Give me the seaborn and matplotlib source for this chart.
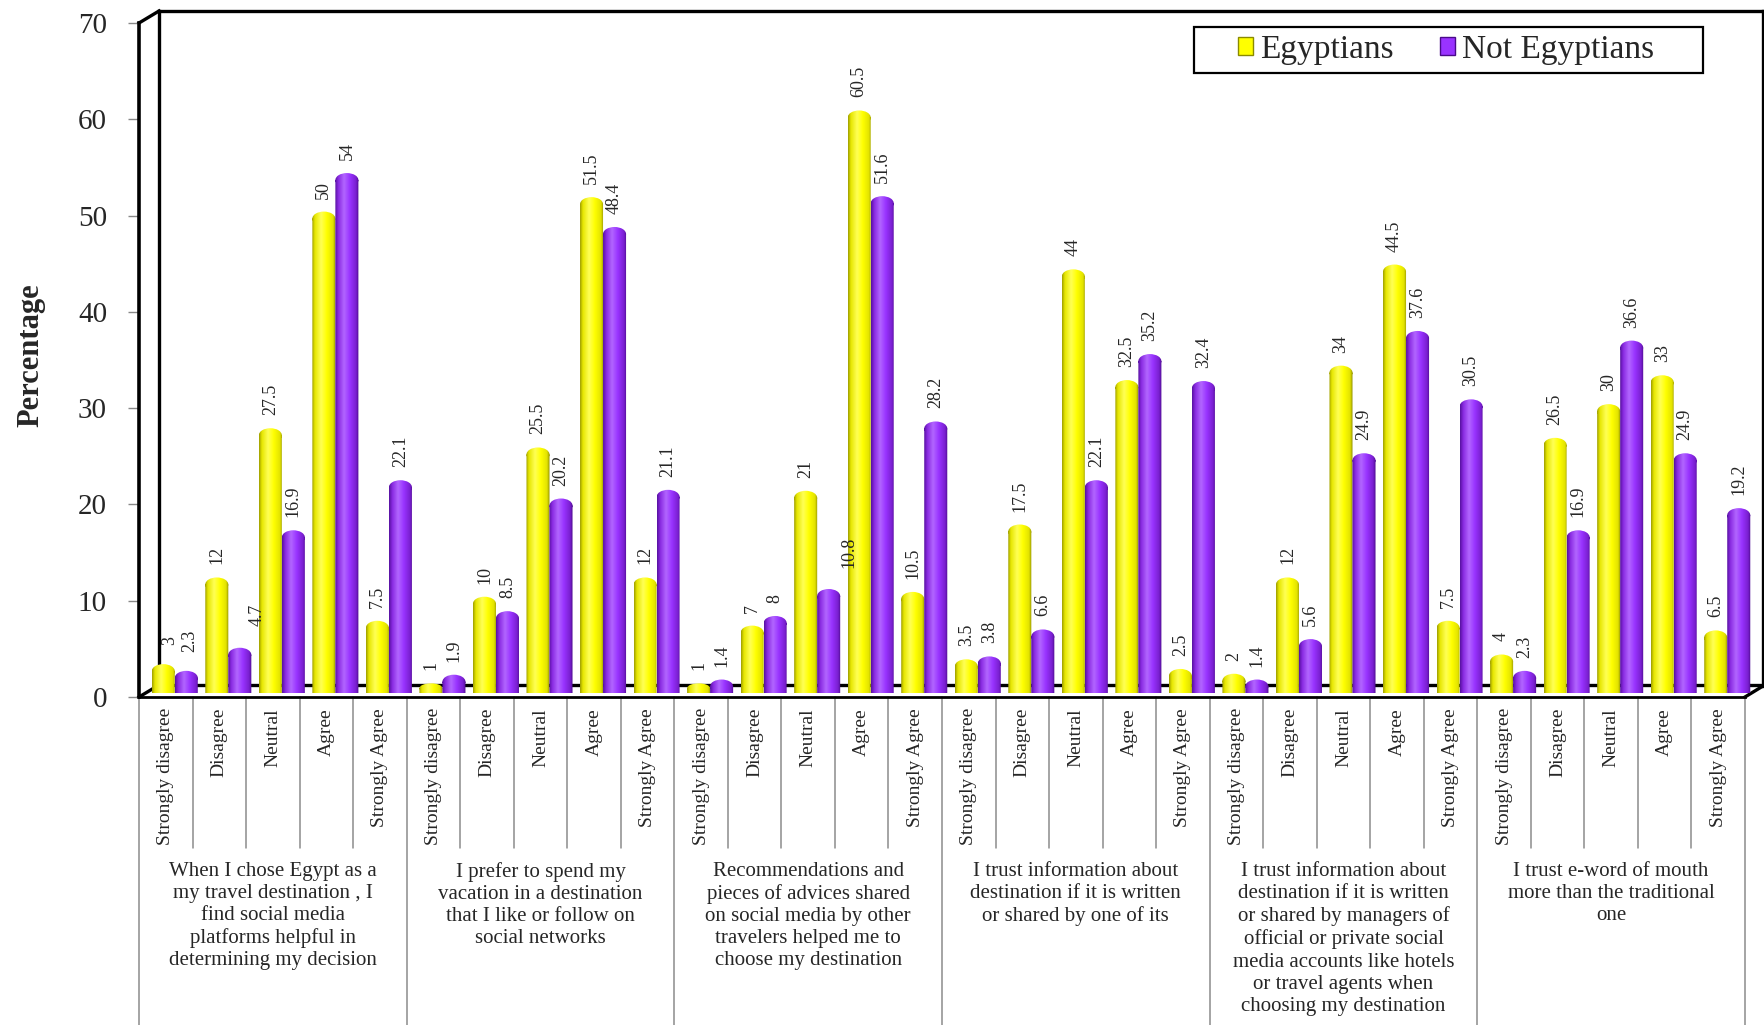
import numpy as np
import pandas as pd
import matplotlib
matplotlib.use("Agg")
import matplotlib.pyplot as plt
import matplotlib.transforms as mtransforms
import seaborn as sns
from matplotlib.colors import LinearSegmentedColormap
from matplotlib.path import Path
from matplotlib.lines import Line2D
from matplotlib.patches import Rectangle, Patch

# ---------------------------------------------------------------- data
statements = [
    "When I chose Egypt as a\nmy travel destination , I\nfind social media\nplatforms helpful in\ndetermining my decision",
    "I prefer to spend my\nvacation in a destination\nthat I like or follow on\nsocial networks",
    "Recommendations and\npieces of advices shared\non social media by other\ntravelers helped me to\nchoose my destination",
    "I trust information about\ndestination if it is written\nor shared by one of its",
    "I trust information about\ndestination if it is written\nor shared by managers of\nofficial or private social\nmedia accounts like hotels\nor travel agents when\nchoosing my destination",
    "I trust e-word of mouth\nmore than the traditional\none",
]
levels = ["Strongly disagree", "Disagree", "Neutral", "Agree", "Strongly Agree"]
series = ["Egyptians", "Not Egyptians"]

egyptians = [3, 12, 27.5, 50, 7.5,
             1, 10, 25.5, 51.5, 12,
             1, 7, 21, 60.5, 10.5,
             3.5, 17.5, 44, 32.5, 2.5,
             2, 12, 34, 44.5, 7.5,
             4, 26.5, 30, 33, 6.5]
not_egyptians = [2.3, 4.7, 16.9, 54, 22.1,
                 1.9, 8.5, 20.2, 48.4, 21.1,
                 1.4, 8, 10.8, 51.6, 28.2,
                 3.8, 6.6, 22.1, 35.2, 32.4,
                 1.4, 5.6, 24.9, 37.6, 30.5,
                 2.3, 16.9, 36.6, 24.9, 19.2]
y_ticks = [0, 10, 20, 30, 40, 50, 60, 70]

n_pos = len(statements) * len(levels)
df = pd.DataFrame({
    "pos": np.tile(np.arange(n_pos), len(series)),
    "series": np.repeat(series, n_pos),
    "value": egyptians + not_egyptians,
})

# ---------------------------------------------------------------- style
sns.set_theme(style="white")
plt.rcParams["font.family"] = ["Liberation Serif", "DejaVu Serif"]

W, H = 1765, 1025
YELLOW, PURPLE = "#FFFF00", "#9933FF"
cmap_yellow = LinearSegmentedColormap.from_list(
    "cyl_y", [(0, "#9C9C00"), (0.12, "#E6E600"), (0.38, "#FFFF55"),
              (0.62, "#FFFF00"), (0.88, "#E2E200"), (1, "#8A8A00")])
cmap_purple = LinearSegmentedColormap.from_list(
    "cyl_p", [(0, "#55109E"), (0.14, "#8A2BE2"), (0.38, "#B266FF"),
              (0.62, "#9933FF"), (0.88, "#7A1FD0"), (1, "#4A0A8A")])


def fx(x):
    return x / W


def fy(y):
    return 1 - y / H


fig = plt.figure(figsize=(W / 100, H / 100), dpi=100)
fig.patch.set_facecolor("white")

plot_w = (1745 - 139) / W
plot_h = (697 - 23) / H
px_per_unit = (697 - 23) / 70.0

# front plane: value axis and category axis
axf = fig.add_axes([fx(139), fy(697), plot_w, plot_h])
# bar plane, set slightly back (up and to the right)
axb = fig.add_axes([fx(148), fy(693), plot_w, plot_h])
for a in (axf, axb):
    a.patch.set_visible(False)

sns.barplot(data=df, x="pos", y="value", hue="series", hue_order=series,
            palette=[YELLOW, PURPLE], saturation=1, width=0.86, gap=0,
            dodge=True, legend=False, ax=axb)

# cylinder-shaded bars with rounded tops
cap = 7 / px_per_unit
grad = np.linspace(0, 1, 256).reshape(1, -1)
for cont, cmap in zip(axb.containers, [cmap_yellow, cmap_purple]):
    for bar in cont:
        x0, w, h = bar.get_x(), bar.get_width(), bar.get_height()
        c = min(cap, h / 2)
        body = Path([(x0, 0), (x0 + w, 0), (x0 + w, h - c), (x0, h - c), (x0, 0)],
                    closed=True)
        top = Path.unit_circle().transformed(
            mtransforms.Affine2D().scale(w / 2, c).translate(x0 + w / 2, h - c))
        clip = Path.make_compound_path(body, top)
        im = axb.imshow(grad, extent=[x0, x0 + w, 0, h], aspect="auto",
                        cmap=cmap, interpolation="bilinear", zorder=2)
        im.set_clip_path(clip, transform=axb.transData)
        bar.set_visible(False)

# value labels
nudges = {(0, 0): (6, 6), (1, 0): (3, 6), (1, 1): (17, 9), (1, 12): (20, 8)}
for si, (cont, vals) in enumerate(zip(axb.containers, [egyptians, not_egyptians])):
    for pi, (bar, v) in enumerate(zip(cont, vals)):
        dx, dy = nudges.get((si, pi), (0, 0))
        axb.annotate(f"{v:g}", (bar.get_x() + bar.get_width() / 2, v),
                     xytext=(dx * 0.72, (13 + dy) * 0.72), textcoords="offset points",
                     rotation=90, ha="center", va="bottom", fontsize=13, zorder=5)

axb.set_xlim(-0.5, n_pos - 0.5)
axb.set_ylim(0, 70)
axb.set_axis_off()

# front axes styling
axf.set_xlim(-0.5, n_pos - 0.5)
axf.set_ylim(0, 70)
axf.set_yticks(y_ticks)
axf.set_yticklabels([str(t) for t in y_ticks], fontsize=21)
axf.tick_params(axis="y", left=True, length=8, width=1, color="#888888", pad=15)
axf.set_xticks(np.arange(n_pos))
axf.set_xticklabels(levels * len(statements), rotation=90, fontsize=14)
axf.tick_params(axis="x", bottom=False, length=0, pad=8)
for side in ("top", "right"):
    axf.spines[side].set_visible(False)
axf.spines["left"].set_color("black")
axf.spines["left"].set_linewidth(2.6)
axf.spines["bottom"].set_color("black")
axf.spines["bottom"].set_linewidth(2.0)
axf.set_xlabel("")
axf.set_ylabel("")

# category separators below the floor
blend = mtransforms.blended_transform_factory(axf.transData, axf.transAxes)
minor_end = -(848 - 697) / (697 - 23)
major_end = -(1025 - 697) / (697 - 23)
for k in range(n_pos + 1):
    yend = major_end if k % len(levels) == 0 else minor_end
    axf.add_line(Line2D([k - 0.5, k - 0.5], [0, yend], transform=blend,
                        color="#8C8C8C", lw=1.1, clip_on=False))

# statement captions
cap_top = -(862 - 697) / (697 - 23)
for g, text in enumerate(statements):
    axf.text(g * len(levels) + (len(levels) - 1) / 2, cap_top, text, transform=blend,
             ha="center", va="top", fontsize=15, linespacing=1.22)

# back walls of the 3-D box
frame = [((139, 23), (159, 11)), ((159, 11), (1763, 11)), ((159, 11), (159, 685)),
         ((1763, 11), (1763, 686)), ((159, 685), (1763, 685)),
         ((139, 697), (159, 685)), ((1745, 697), (1763, 686))]
for (x1, y1), (x2, y2) in frame:
    fig.add_artist(Line2D([fx(x1), fx(x2)], [fy(y1), fy(y2)], transform=fig.transFigure,
                          color="black", lw=2.4, zorder=-1, solid_capstyle="projecting"))

# legend
fig.add_artist(Rectangle((fx(1194), fy(73)), (1703 - 1194) / W, (73 - 27) / H,
                         transform=fig.transFigure, fill=False, edgecolor="black",
                         lw=1.6))
handles = [Patch(facecolor=YELLOW, edgecolor="#8A8A00"),
           Patch(facecolor=PURPLE, edgecolor="#4A0A8A")]
fig.legend(handles, series, loc="center", bbox_to_anchor=(fx(1446), fy(50)),
           ncol=2, frameon=False, fontsize=24, handlelength=0.45, handleheight=0.45,
           handletextpad=0.2, columnspacing=1.4, borderaxespad=0, borderpad=0)

fig.text(fx(31), fy(355), "Percentage", rotation=90, fontweight="bold",
         fontsize=22, ha="center", va="center")

fig.savefig("out.png", dpi=100)
